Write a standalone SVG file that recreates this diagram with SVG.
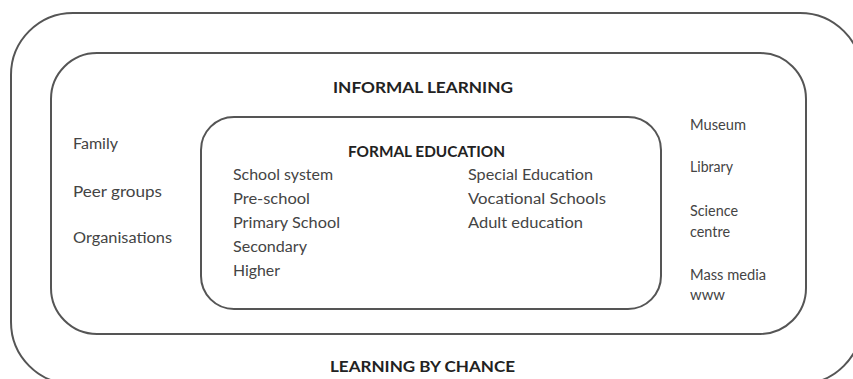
<svg xmlns="http://www.w3.org/2000/svg" width="853" height="379" viewBox="0 0 853 379">
  <style>
    .frame { fill: none; stroke: #555; stroke-width: 2; }
    .head { font-family: Lato, "Liberation Sans", sans-serif; font-weight: bold; font-size: 16px; fill: #222; }
    .sub { font-family: Lato, "Liberation Sans", sans-serif; font-weight: bold; font-size: 14.5px; fill: #222; }
    .item { font-family: Lato, "Liberation Sans", sans-serif; font-size: 14.5px; fill: #444; }
  </style>
  <rect width="853" height="379" fill="#fff"/>

  <!-- outer ring: learning by chance -->
  <g id="learning-by-chance">
    <rect class="frame" x="11" y="13" width="851" height="371" rx="62" ry="62"/>
    <text class="head" x="330" y="372" textLength="185" lengthAdjust="spacingAndGlyphs">LEARNING BY CHANCE</text>
  </g>

  <!-- middle ring: informal learning -->
  <g id="informal-learning">
    <rect class="frame" x="51" y="53" width="755" height="281" rx="46" ry="46"/>
    <text class="head" x="333" y="93" textLength="180" lengthAdjust="spacingAndGlyphs">INFORMAL LEARNING</text>
    <text class="item" x="73" y="149" textLength="45" lengthAdjust="spacingAndGlyphs">Family</text>
    <text class="item" x="73" y="197" textLength="89" lengthAdjust="spacingAndGlyphs">Peer groups</text>
    <text class="item" x="73" y="243" textLength="99" lengthAdjust="spacingAndGlyphs">Organisations</text>
    <text class="item" x="690" y="130" textLength="56" lengthAdjust="spacingAndGlyphs">Museum</text>
    <text class="item" x="690" y="172" textLength="43" lengthAdjust="spacingAndGlyphs">Library</text>
    <text class="item" x="690" y="216" textLength="48" lengthAdjust="spacingAndGlyphs">Science</text>
    <text class="item" x="690" y="237" textLength="40" lengthAdjust="spacingAndGlyphs">centre</text>
    <text class="item" x="690" y="280" textLength="76" lengthAdjust="spacingAndGlyphs">Mass media</text>
    <text class="item" x="690" y="300" textLength="35" lengthAdjust="spacingAndGlyphs">www</text>
  </g>

  <!-- inner ring: formal education -->
  <g id="formal-education">
    <rect class="frame" x="201" y="117" width="460" height="192" rx="33" ry="33"/>
    <text class="sub" x="348" y="157" textLength="157" lengthAdjust="spacingAndGlyphs">FORMAL EDUCATION</text>
    <text class="item" x="233" y="180" textLength="100" lengthAdjust="spacingAndGlyphs">School system</text>
    <text class="item" x="233" y="204" textLength="77" lengthAdjust="spacingAndGlyphs">Pre-school</text>
    <text class="item" x="233" y="228" textLength="107" lengthAdjust="spacingAndGlyphs">Primary School</text>
    <text class="item" x="233" y="252" textLength="74" lengthAdjust="spacingAndGlyphs">Secondary</text>
    <text class="item" x="233" y="276" textLength="47" lengthAdjust="spacingAndGlyphs">Higher</text>
    <text class="item" x="468" y="180" textLength="125" lengthAdjust="spacingAndGlyphs">Special Education</text>
    <text class="item" x="468" y="204" textLength="138" lengthAdjust="spacingAndGlyphs">Vocational Schools</text>
    <text class="item" x="468" y="228" textLength="115" lengthAdjust="spacingAndGlyphs">Adult education</text>
  </g>
</svg>
